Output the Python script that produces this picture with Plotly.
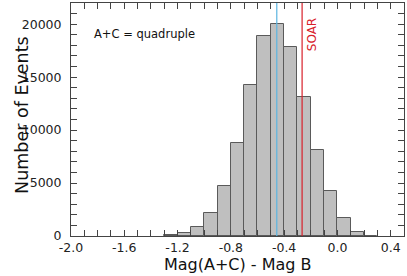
import plotly.graph_objects as go

# Histogram data (bin left edges, width 0.1)
bin_left = [-1.3, -1.2, -1.1, -1.0, -0.9, -0.8, -0.7, -0.6, -0.5, -0.4, -0.3, -0.2, -0.1, 0.0, 0.1, 0.2]
counts = [60, 250, 820, 2140, 4720, 8750, 14250, 18870, 20000, 17800, 13110, 8110, 4250, 1670, 400, 40]
bin_width = 0.1

blue_line_x = -0.455
red_line_x = -0.265

x_tick_vals = [-2.0, -1.6, -1.2, -0.8, -0.4, 0.0, 0.4]
x_tick_text = ["-2.0", "-1.6", "-1.2", "-0.8", "-0.4", "0.0", "0.4"]
y_tick_vals = [0, 5000, 10000, 15000, 20000]
y_tick_text = ["0", "5000", "10000", "15000", "20000"]

centers = [b + bin_width / 2 for b in bin_left]

FONT = "DejaVu Sans"
AXC = "#444444"

fig = go.Figure()
fig.add_trace(go.Bar(
    x=centers, y=counts, width=[bin_width] * len(counts),
    marker=dict(color="#bfbfbf", line=dict(color="#5a5a5a", width=1)),
    showlegend=False, hoverinfo="skip",
))

fig.add_shape(type="line", x0=blue_line_x, x1=blue_line_x, y0=0, y1=1,
              xref="x", yref="paper", line=dict(color="#5ab4e0", width=1.2))
fig.add_shape(type="line", x0=red_line_x, x1=red_line_x, y0=0, y1=1,
              xref="x", yref="paper", line=dict(color="#d8202a", width=1.2))

fig.add_annotation(x=red_line_x + 0.08, y=19030, xref="x", yref="y", text="SOAR",
                   textangle=-90, showarrow=False,
                   font=dict(family=FONT, size=12, color="#d8202a"))
fig.add_annotation(x=-1.84, y=19100, xref="x", yref="y", text="A+C = quadruple",
                   showarrow=False, xanchor="left",
                   font=dict(family=FONT, size=11.5, color="#111111"))

# axis titles placed in paper coordinates
fig.add_annotation(x=-0.183, y=0.52, xref="paper", yref="paper", text="Number of Events",
                   textangle=-90, showarrow=False,
                   font=dict(family=FONT, size=17.5, color="#111111"))
fig.add_annotation(x=0.5, y=-0.074, xref="paper", yref="paper", text="Mag(A+C) - Mag B",
                   showarrow=False, yanchor="top",
                   font=dict(family=FONT, size=16, color="#111111"))

fig.update_layout(
    width=407, height=276,
    margin=dict(l=71, r=3, t=3, b=40, autoexpand=False),
    paper_bgcolor="white", plot_bgcolor="white",
    bargap=0,
    font=dict(family=FONT, color="#222222"),
)
fig.update_xaxes(
    range=[-2.0, 0.5], tickvals=x_tick_vals, ticktext=x_tick_text,
    ticks="inside", ticklen=6, tickwidth=1, tickcolor=AXC,
    minor=dict(ticks="inside", dtick=0.1, tick0=-2.0, ticklen=6, tickwidth=1, tickcolor=AXC),
    showline=True, linecolor=AXC, linewidth=1, mirror="ticks",
    showgrid=False, zeroline=False, automargin=False,
    tickfont=dict(family=FONT, size=12.5, color="#222222"),
)
fig.update_yaxes(
    range=[0, 22000], tickvals=y_tick_vals, ticktext=y_tick_text,
    ticks="inside", ticklen=6, tickwidth=1, tickcolor=AXC,
    minor=dict(ticks="inside", dtick=1000, tick0=0, ticklen=6, tickwidth=1, tickcolor=AXC),
    showline=True, linecolor=AXC, linewidth=1, mirror="ticks",
    showgrid=False, zeroline=False, automargin=False,
    ticklabelstandoff=6,
    tickfont=dict(family=FONT, size=12.5, color="#222222"),
)

fig.write_html("out.html", config={"displayModeBar": False},
               post_script="document.body.style.margin='0';")
